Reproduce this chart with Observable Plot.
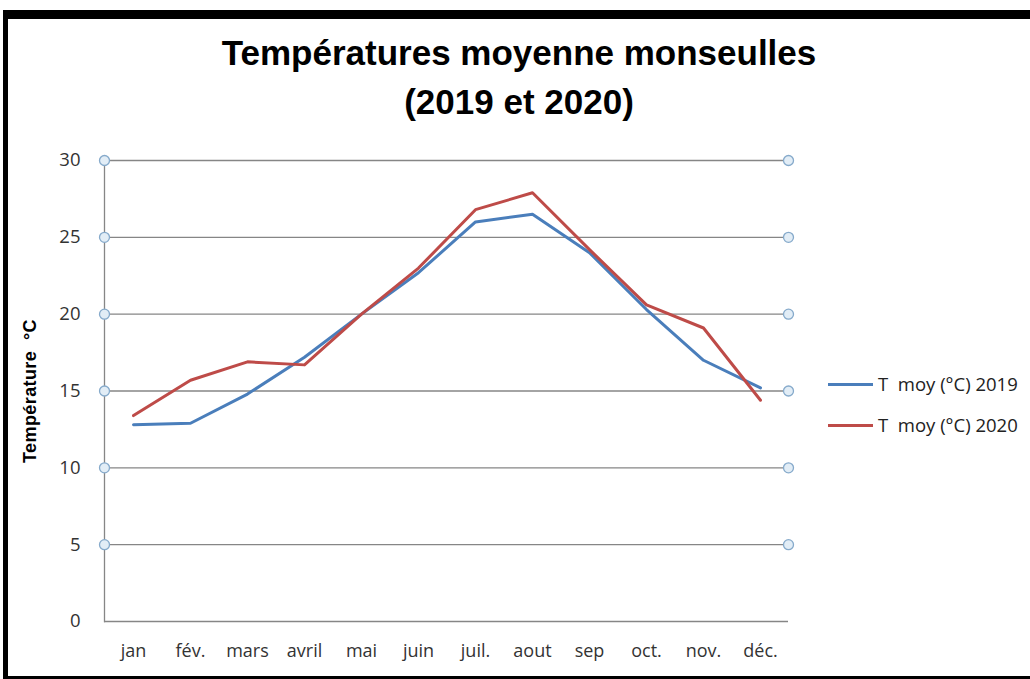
<!DOCTYPE html>
<html><head><meta charset="utf-8">
<script src="https://cdn.jsdelivr.net/npm/d3@7"></script>
<script src="https://cdn.jsdelivr.net/npm/@observablehq/plot@0.6"></script>
<style>
body{margin:0;background:#fff;}
#wrap{position:relative;width:1030px;height:679px;overflow:hidden;background:#fff;}
#border{position:absolute;left:3px;top:10px;width:1060px;height:700px;border-top:9px solid #000;border-left:5px solid #000;box-sizing:border-box;}
#bottom{position:absolute;left:3px;top:676px;width:1030px;height:4px;background:#000;}
#title{position:absolute;left:0;top:28px;width:1038px;text-align:center;font-family:"Liberation Sans",Arial,sans-serif;font-weight:bold;font-size:35px;line-height:49px;color:#000;}
#ytitle{position:absolute;left:30px;top:391px;transform:translate(-50%,-50%) rotate(-90deg);font-family:"Liberation Sans",Arial,sans-serif;font-weight:bold;font-size:18px;letter-spacing:0.4px;white-space:pre;color:#000;}
#chart{position:absolute;left:0;top:130px;}
.legline{position:absolute;left:828px;width:45px;height:3px;}
.legtxt{position:absolute;left:878px;font-family:"Open Sans",sans-serif;font-size:18.5px;line-height:20px;color:#222;white-space:pre;}
</style></head>
<body><div id="wrap">
<div id="border"></div><div id="bottom"></div>
<div id="title">Températures moyenne monseulles<br>(2019 et 2020)</div>
<div id="ytitle">Température  °C</div>
<div id="chart"></div>
<div class="legline" style="top:383px;background:#4a7ebb"></div>
<div class="legtxt" style="top:374px">T  moy (°C) 2019</div>
<div class="legline" style="top:424px;background:#be4b48"></div>
<div class="legtxt" style="top:415px">T  moy (°C) 2020</div>
</div>
<script>
const months = ["jan","fév.","mars","avril","mai","juin","juil.","aout","sep","oct.","nov.","déc."];
const t2019 = [12.8,12.9,14.8,17.2,20.0,22.7,26.0,26.5,24.0,20.3,17.0,15.2];
const t2020 = [13.4,15.7,16.9,16.7,20.0,23.0,26.8,27.9,24.2,20.6,19.1,14.4];
const yTicks = [0,5,10,15,20,25,30];
const gridTicks = [5,10,15,20,25,30];
const series = ["T  moy (°C) 2019","T  moy (°C) 2020"];
const colors = ["#4a7ebb","#be4b48"];

const data = [];
months.forEach((m,i)=>{ data.push({m, v:t2019[i], s:series[0]}); data.push({m, v:t2020[i], s:series[1]}); });

const chart = Plot.plot({
  width:1030, height:549,
  marginTop:30, marginBottom:58, marginLeft:104, marginRight:242,
  style:{fontFamily:"'Open Sans',sans-serif", fontSize:"18px", color:"#333", background:"transparent"},
  x:{type:"point", domain:months, padding:0.5, label:null},
  y:{domain:[0,30], ticks:yTicks, label:null},
  color:{domain:series, range:colors},
  marks:[
    Plot.ruleY(gridTicks,{stroke:"#868686",strokeWidth:1.3,strokeOpacity:1}),
    Plot.ruleY([0],{stroke:"#868686",strokeWidth:1.3}),
    Plot.frame({anchor:"left",stroke:"#868686",strokeWidth:1.3}),
    Plot.dot(gridTicks,{y:d=>d,frameAnchor:"left",r:5,fill:"#e2edf6",stroke:"#86aacb",strokeWidth:1.3}),
    Plot.dot(gridTicks,{y:d=>d,frameAnchor:"right",r:5,fill:"#e2edf6",stroke:"#86aacb",strokeWidth:1.3}),
    Plot.axisY({ticks:yTicks,tickSize:0,tickPadding:24,fontSize:18.5,fill:"#333"}),
    Plot.axisX({tickSize:0,tickPadding:23,fontSize:18,fill:"#333"}),
    Plot.line(data,{x:"m",y:"v",z:"s",stroke:"s",strokeWidth:3})
  ]
});
document.getElementById("chart").appendChild(chart);
</script>
</body></html>
